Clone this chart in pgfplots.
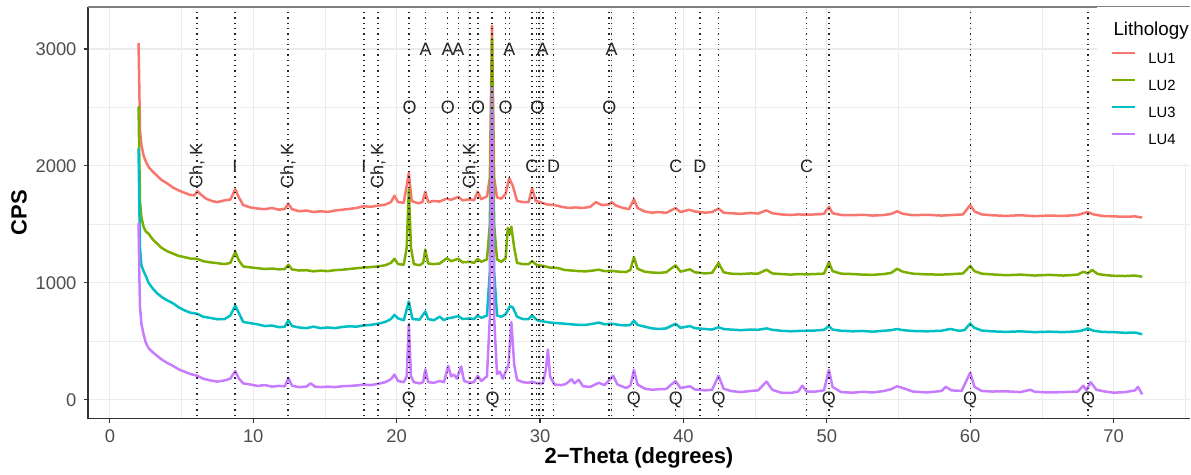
\documentclass[border=0pt]{standalone}
\usepackage{fontspec}
\setmainfont{Liberation Sans}
\usepackage{pgfplots}
\pgfplotsset{compat=1.18}
\definecolor{cLUa}{HTML}{F8766D}
\definecolor{cLUb}{HTML}{7CAE00}
\definecolor{cLUc}{HTML}{00BFC4}
\definecolor{cLUd}{HTML}{C77CFF}
\definecolor{gridc}{HTML}{EBEBEB}
\definecolor{tickc}{HTML}{4D4D4D}
\definecolor{axc}{HTML}{333333}
\begin{document}
\begin{tikzpicture}
\begin{axis}[
  scale only axis, width=551.5pt, height=206pt,
  xmin=-1.53, xmax=75.33, ymin=-162, ymax=3359,
  axis line style={draw=none},
  xtick={0,10,...,70}, minor xtick={5,15,...,75},
  ytick={0,1000,2000,3000}, minor ytick={500,1500,2500},
  grid=both,
  major grid style={gridc, line width=0.55pt},
  minor grid style={gridc, line width=0.3pt},
  tick align=outside, xtick pos=bottom, ytick pos=left,
  major tick length=2.2pt, minor tick length=0pt,
  tick style={axc, line width=0.55pt},
  ticklabel style={font=\fontsize{9.2}{10}\selectfont, text=tickc},
  /pgf/number format/assume math mode=true,
  /pgf/number format/set thousands separator={},
  xlabel={2−Theta (degrees)}, ylabel={CPS},
  label style={font=\bfseries\fontsize{11}{13}\selectfont},
  xlabel style={at={([yshift=-19.5pt]axis description cs:0.5,0)}, anchor=center},
  ylabel style={at={([xshift=-34.5pt]axis description cs:0,0.5)}, anchor=center},
  legend style={at={(rel axis cs:1,1)}, anchor=north east, draw=none, fill=white,
    inner xsep=7pt, inner ysep=9pt, font=\fontsize{7.4}{8}\selectfont,
    row sep=7.6pt, column sep=6pt,
    nodes={text height=5.3pt, text depth=0.2pt, inner sep=0pt}},
  legend cell align=left,
  legend image code/.code={\draw[#1, line width=1.2pt] (0pt,2.6pt) -- (11.5pt,2.6pt);},
  every axis plot/.append style={line join=round},
  after end axis/.code={
    \draw[axc, line width=0.6pt] (rel axis cs:0,1) -- (rel axis cs:0,0) -- (rel axis cs:1,0);
    \draw[gray, line width=1pt] (rel axis cs:0,1) -- (rel axis cs:1,1);
    \path (rel axis cs:0,0) ++(-44pt,-28pt) coordinate (bbA);
    \path (rel axis cs:1,1) ++(0pt,3.5pt) coordinate (bbB);
    \path (bbA) rectangle (bbB);
  },
]
\addlegendimage{empty legend}
\addlegendentry{\makebox[0pt][l]{\hspace*{-18pt}\fontsize{9.4}{10}\selectfont Lithology}}

% LU1
\addplot[cLUa, line width=1.25pt] coordinates {
(2.0,3050) (2.05,2700) (2.1,2300) (2.2,2180) (2.35,2090) (2.5,2040) (2.7,1990) (3.0,1950) (3.3,1915) (3.6,1880) (4.0,1850) (4.4,1815) (4.8,1790) (5.2,1770) (5.6,1752) (5.9,1748) (6.1,1785) (6.3,1760) (6.7,1720) (7.1,1700) (7.5,1690) (8.0,1705) (8.4,1712) (8.75,1800) (9.0,1730) (9.3,1665) (9.8,1645) (10.3,1635) (10.8,1630) (11.3,1640) (11.8,1625) (12.2,1632) (12.45,1675) (12.7,1630) (13.2,1612) (13.7,1618) (14.2,1605) (14.7,1612) (15.2,1606) (15.7,1618) (16.2,1625) (16.7,1632) (17.2,1640) (17.7,1655) (18.2,1650) (18.7,1660) (19.2,1668) (19.6,1690) (19.85,1745) (20.1,1690) (20.5,1685) (20.85,1940) (21.05,1700) (21.5,1680) (21.8,1690) (22.0,1780) (22.2,1690) (22.6,1700) (23.0,1695) (23.5,1720) (23.8,1710) (24.3,1735) (24.6,1705) (25.1,1715) (25.4,1705) (25.65,1780) (25.9,1715) (26.3,1740) (26.5,1900) (26.65,3200) (26.8,1900) (27.0,1730) (27.3,1720) (27.6,1760) (27.85,1895) (28.1,1830) (28.4,1700) (28.8,1690) (29.2,1690) (29.45,1810) (29.7,1700) (30.0,1690) (30.5,1670) (31.0,1665) (31.5,1650) (32.0,1640) (32.5,1645) (33.0,1640) (33.5,1650) (33.9,1690) (34.3,1665) (34.8,1670) (35.0,1690) (35.3,1660) (35.8,1640) (36.2,1630) (36.55,1715) (36.8,1640) (37.3,1610) (37.8,1600) (38.3,1605) (38.8,1598) (39.45,1640) (39.8,1605) (40.4,1625) (40.8,1610) (41.5,1600) (42.0,1605) (42.45,1635) (42.8,1600) (43.3,1595) (44.0,1590) (44.7,1598) (45.2,1592) (45.8,1620) (46.2,1595) (46.8,1585) (47.5,1580) (48.0,1585) (48.6,1582) (49.2,1585) (49.8,1590) (50.15,1650) (50.4,1595) (51.0,1580) (51.8,1578) (52.5,1582) (53.2,1575) (54.0,1580) (54.5,1590) (54.9,1612) (55.3,1590) (56.0,1578) (57.0,1582) (58.0,1575) (58.8,1580) (59.5,1585) (60.0,1665) (60.3,1610) (60.8,1585) (61.5,1578) (62.5,1572) (63.5,1578) (64.5,1570) (65.5,1575) (66.5,1572) (67.5,1580) (67.9,1595) (68.2,1605) (68.6,1585) (69.2,1572) (70.0,1568) (70.8,1565) (71.5,1568) (72.0,1558)
};
\addlegendentry{LU1}

% LU2
\addplot[cLUb, line width=1.25pt] coordinates {
(2.0,2510) (2.05,2100) (2.1,1700) (2.2,1560) (2.35,1480) (2.5,1440) (2.7,1420) (3.0,1370) (3.3,1335) (3.6,1300) (4.0,1270) (4.4,1250) (4.8,1230) (5.2,1220) (5.6,1208) (6.1,1205) (6.5,1185) (7.0,1175) (7.5,1168) (8.0,1160) (8.4,1170) (8.75,1265) (9.0,1190) (9.3,1140) (9.8,1132) (10.3,1125) (10.8,1118) (11.3,1122) (11.8,1115) (12.2,1118) (12.45,1155) (12.7,1115) (13.2,1105) (13.7,1108) (14.2,1098) (14.7,1104) (15.2,1100) (15.7,1108) (16.2,1112) (16.7,1118) (17.2,1125) (17.7,1130) (18.2,1135) (18.7,1140) (19.2,1150) (19.6,1170) (19.85,1205) (20.1,1160) (20.5,1155) (20.7,1300) (20.85,1800) (21.0,1300) (21.2,1160) (21.6,1150) (21.85,1170) (22.0,1285) (22.2,1165) (22.6,1160) (23.0,1165) (23.5,1210) (23.8,1185) (24.3,1205) (24.6,1175) (25.1,1180) (25.4,1170) (25.65,1205) (25.9,1180) (26.3,1200) (26.5,1500) (26.65,3090) (26.8,1500) (27.0,1200) (27.3,1180) (27.6,1210) (27.75,1470) (27.9,1420) (28.0,1480) (28.2,1300) (28.4,1170) (28.8,1160) (29.2,1160) (29.45,1185) (29.8,1150) (30.2,1145) (30.7,1130) (31.2,1128) (31.7,1110) (32.2,1105) (32.7,1100) (33.2,1098) (33.7,1105) (34.1,1112) (34.5,1100) (35.0,1102) (35.5,1095) (36.0,1092) (36.3,1110) (36.55,1220) (36.8,1120) (37.3,1095) (37.8,1088) (38.3,1085) (38.8,1090) (39.45,1150) (39.8,1095) (40.45,1115) (40.8,1090) (41.5,1080) (42.0,1085) (42.45,1170) (42.8,1090) (43.3,1078) (44.0,1075) (44.7,1080) (45.2,1078) (45.8,1112) (46.2,1080) (46.8,1075) (47.5,1070) (48.0,1075) (48.6,1072) (49.2,1075) (49.8,1078) (50.15,1175) (50.4,1100) (51.0,1078) (51.8,1075) (52.5,1070) (53.2,1068) (54.0,1075) (54.5,1085) (54.9,1120) (55.3,1095) (56.0,1078) (57.0,1072) (58.0,1070) (58.8,1075) (59.5,1080) (60.0,1145) (60.3,1100) (60.8,1078) (61.5,1072) (62.5,1065) (63.5,1070) (64.5,1062) (65.5,1068) (66.5,1062) (67.5,1070) (67.9,1095) (68.2,1080) (68.5,1110) (68.9,1075) (69.5,1065) (70.0,1060) (70.8,1058) (71.5,1062) (72.0,1052)
};
\addlegendentry{LU2}

% LU3
\addplot[cLUc, line width=1.25pt] coordinates {
(2.0,2150) (2.05,1700) (2.1,1300) (2.2,1150) (2.35,1100) (2.5,1060) (2.7,1000) (3.0,950) (3.3,910) (3.6,880) (4.0,850) (4.4,825) (4.8,790) (5.2,765) (5.6,745) (6.1,735) (6.5,710) (7.0,700) (7.5,688) (8.0,690) (8.4,720) (8.75,805) (9.0,740) (9.3,665) (9.8,655) (10.3,645) (10.8,630) (11.3,635) (11.8,620) (12.2,625) (12.45,680) (12.7,630) (13.2,618) (13.7,612) (14.2,625) (14.7,612) (15.2,618) (15.7,612) (16.2,622) (16.7,628) (17.2,625) (17.7,635) (18.2,640) (18.7,650) (19.2,665) (19.6,690) (19.85,725) (20.1,695) (20.5,680) (20.85,840) (21.1,690) (21.6,685) (22.0,755) (22.2,690) (22.6,680) (23.0,710) (23.3,680) (23.5,695) (23.8,700) (24.3,715) (24.6,690) (25.1,695) (25.4,690) (25.65,720) (25.9,700) (26.3,720) (26.5,1100) (26.65,2500) (26.8,1100) (27.0,720) (27.3,710) (27.6,730) (27.9,800) (28.1,790) (28.4,710) (28.8,690) (29.2,690) (29.45,720) (29.8,680) (30.2,670) (30.7,660) (31.2,655) (31.7,650) (32.2,645) (32.7,640) (33.2,640) (33.7,650) (34.1,660) (34.5,645) (35.0,650) (35.5,640) (36.0,635) (36.3,640) (36.55,675) (36.8,640) (37.3,625) (37.8,610) (38.3,605) (38.8,610) (39.45,650) (39.8,615) (40.45,630) (40.8,612) (41.5,605) (42.0,600) (42.45,620) (42.8,605) (43.3,600) (44.0,595) (44.7,600) (45.2,598) (45.8,610) (46.2,598) (46.8,590) (47.5,585) (48.0,588) (48.6,590) (49.2,592) (49.8,598) (50.15,630) (50.4,600) (51.0,590) (51.8,585) (52.5,588) (53.2,582) (54.0,590) (54.5,595) (54.9,605) (55.3,595) (56.0,588) (57.0,585) (58.0,590) (58.6,605) (59.2,590) (59.6,595) (60.0,652) (60.3,615) (60.8,592) (61.5,585) (62.5,580) (63.5,585) (64.5,578) (65.5,582) (66.5,578) (67.5,585) (67.9,595) (68.2,610) (68.6,590) (69.2,580) (70.0,578) (70.8,572) (71.5,575) (72.0,560)
};
\addlegendentry{LU3}

% LU4
\addplot[cLUd, line width=1.25pt] coordinates {
(2.0,1510) (2.05,1100) (2.1,800) (2.2,650) (2.35,560) (2.5,490) (2.7,440) (3.0,405) (3.3,375) (3.6,345) (4.0,315) (4.4,290) (4.8,260) (5.2,240) (5.6,220) (6.1,205) (6.5,180) (7.0,165) (7.5,155) (8.0,165) (8.4,180) (8.75,245) (9.0,180) (9.3,140) (9.8,130) (10.3,118) (10.8,125) (11.3,112) (11.8,118) (12.2,115) (12.45,185) (12.7,120) (13.2,108) (13.7,112) (14.0,140) (14.3,112) (14.7,108) (15.2,112) (15.7,108) (16.2,115) (16.7,118) (17.2,122) (17.7,130) (18.2,125) (18.7,135) (19.2,150) (19.6,175) (19.85,215) (20.1,160) (20.5,150) (20.7,200) (20.85,650) (21.0,200) (21.2,150) (21.6,140) (21.85,150) (22.0,260) (22.2,150) (22.6,145) (23.0,160) (23.3,150) (23.6,290) (23.8,200) (24.0,215) (24.2,180) (24.5,285) (24.7,160) (25.1,145) (25.4,150) (25.65,205) (25.9,160) (26.3,200) (26.5,700) (26.65,2680) (26.8,700) (27.0,220) (27.2,240) (27.4,180) (27.6,240) (27.8,300) (28.0,665) (28.2,300) (28.4,170) (28.8,150) (29.2,145) (29.45,155) (29.8,140) (30.2,140) (30.4,250) (30.55,430) (30.7,200) (31.0,130) (31.5,125) (31.8,135) (32.2,175) (32.4,140) (32.7,170) (33.0,115) (33.5,110) (34.1,145) (34.5,125) (35.1,205) (35.4,130) (36.0,100) (36.3,120) (36.55,255) (36.8,130) (37.3,95) (37.8,85) (38.3,90) (38.8,92) (39.45,160) (39.8,100) (40.45,115) (40.8,88) (41.5,80) (42.0,85) (42.45,205) (42.8,95) (43.3,75) (44.0,65) (44.7,75) (45.2,80) (45.8,155) (46.2,85) (46.8,60) (47.5,58) (48.0,70) (48.3,120) (48.6,70) (49.2,70) (49.8,80) (50.15,255) (50.4,110) (51.0,65) (51.8,60) (52.5,68) (53.2,62) (54.0,75) (54.5,90) (54.9,115) (55.3,100) (56.0,70) (57.0,62) (58.0,75) (58.3,110) (58.7,80) (59.4,75) (60.0,232) (60.3,110) (60.8,75) (61.5,70) (62.5,72) (63.5,65) (64.2,85) (64.5,68) (65.5,62) (66.5,65) (67.5,70) (67.9,120) (68.1,80) (68.4,150) (68.8,85) (69.5,68) (70.0,60) (70.8,65) (71.5,80) (71.7,110) (72.0,45)
};
\addlegendentry{LU4}

% reference lines
\pgfplotsinvokeforeach{6.08,8.72,12.43,17.72,18.7,20.85,20.92,22.02,23.55,24.31,25.12,25.68,26.65,27.6,27.87,29.43,29.73,29.92,30.2,30.94,34.82,35.0,36.54,39.47,41.15,42.45,48.6,50.15,60.0,68.22}{
  \addplot[forget plot, black!85, line width=0.65pt, dash pattern=on 0.65pt off 2pt] coordinates {(#1,-500) (#1,4000)};
}

% upright labels
\addplot[forget plot, draw=none, mark=none, nodes near coords, point meta=explicit symbolic,
  nodes near coords style={anchor=center, inner sep=0pt, font=\fontsize{9}{10}\selectfont, text=black!85}]
  table[col sep=semicolon, row sep=\\, meta=label] {
x;y;label\\
20.85;0;Q\\ 26.7;0;Q\\ 36.54;0;Q\\ 39.47;0;Q\\ 42.45;0;Q\\ 50.15;0;Q\\ 60.0;0;Q\\ 68.22;0;Q\\
20.9;2500;O\\ 23.57;2500;O\\ 25.68;2500;O\\ 27.6;2500;O\\ 29.82;2500;O\\ 34.84;2500;O\\
22.02;3000;A\\ 23.55;3000;A\\ 24.31;3000;A\\ 27.87;3000;A\\ 30.18;3000;A\\ 35.0;3000;A\\
29.43;2000;C\\ 30.94;2000;D\\ 39.47;2000;C\\ 41.15;2000;D\\ 48.6;2000;C\\
8.72;2000;I\\ 17.72;2000;I\\
};

% rotated labels
\addplot[forget plot, draw=none, mark=none, nodes near coords, point meta=explicit symbolic,
  nodes near coords style={anchor=center, rotate=90, inner sep=0pt, font=\fontsize{9}{10}\selectfont, text=black!85}]
  table[col sep=semicolon, row sep=\\, meta=label] {
x;y;label\\
6.08;2000;Ch, K\\ 12.43;2000;Ch, K\\ 18.7;2000;Ch, K\\ 25.12;2000;Ch, K\\
};
\end{axis}
\end{tikzpicture}
\end{document}
